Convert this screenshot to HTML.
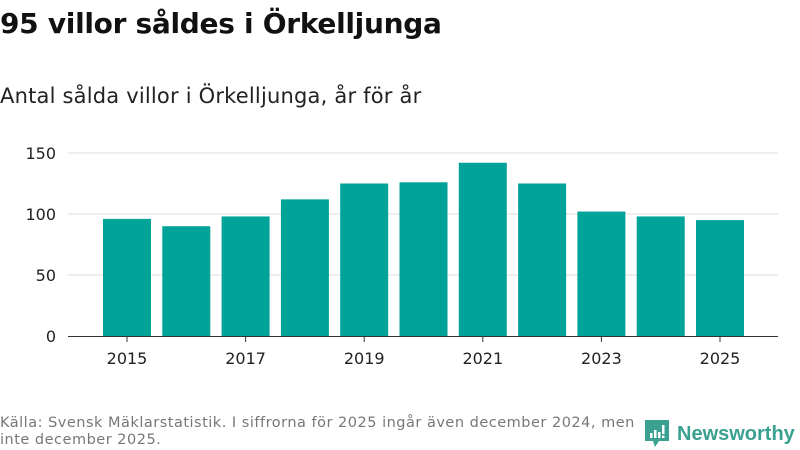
<!DOCTYPE html>
<html><head><meta charset="utf-8">
<style>
body{margin:0;width:800px;height:450px;background:#fff;font-family:"DejaVu Sans","Liberation Sans",sans-serif;overflow:hidden;position:relative}
#title{position:absolute;left:0;top:7px;font-size:28px;font-weight:bold;color:#111;letter-spacing:-0.3px}
#sub{position:absolute;left:0;top:84px;font-size:21px;color:#222;letter-spacing:0.2px}
#src{position:absolute;left:0;top:415px;font-size:14.5px;color:#777;line-height:17px;width:640px;letter-spacing:0.5px}
#logo{position:absolute;left:645px;top:420px;display:flex;align-items:center}
#logo span{font-size:20px;color:#3aa191;font-weight:bold;margin-left:8px;font-family:"Liberation Sans",sans-serif}
</style></head><body>
<div id="title">95 villor såldes i Örkelljunga</div>
<div id="sub">Antal sålda villor i Örkelljunga, år för år</div>
<svg id="chart" width="800" height="450" style="position:absolute;left:0;top:0"></svg>
<div id="src">Källa: Svensk Mäklarstatistik. I siffrorna för 2025 ingår även december 2024, men<br>inte december 2025.</div>
<div id="logo">
<svg width="24" height="28" viewBox="0 0 24 28"><path d="M0 0H24V21H14L10 27L8 21H0Z" fill="#3aa191"/><rect x="5" y="13" width="2.5" height="5" fill="#fff"/><rect x="9" y="10" width="2.5" height="8" fill="#fff"/><rect x="13" y="12" width="2.5" height="6" fill="#fff"/><rect x="17" y="5" width="2.5" height="9" fill="#fff"/><rect x="17" y="15.5" width="2.5" height="2.5" fill="#fff"/></svg>
<span>Newsworthy</span></div>
<script>
const years=[2015,2016,2017,2018,2019,2020,2021,2022,2023,2024,2025];
const values=[96,90,98,112,125,126,142,125,102,98,95];
const yTicks=[0,50,100,150];
const xTickYears=[2015,2017,2019,2021,2023,2025];
const svg=document.getElementById('chart');
const NS='http://www.w3.org/2000/svg';
const y0=336,pxPer=(336-153)/150;
const y=v=>y0-v*pxPer;
const x=yr=>127+(yr-2015)*59.3;
function mk(t,a){const e=document.createElementNS(NS,t);for(const k in a)e.setAttribute(k,a[k]);svg.appendChild(e);return e;}
yTicks.forEach(t=>{
 if(t>0){const g=mk('line',{x1:68,x2:778,y1:y(t),y2:y(t),stroke:'#ddd','stroke-width':1});
 
 }
 const l=mk('text',{x:56,y:y(t)+6,'text-anchor':'end','font-size':16,fill:'#222','font-family':'DejaVu Sans, sans-serif'});
 l.textContent=t;
 
 
});
years.forEach((yr,i)=>{
 const r=mk('rect',{x:x(yr)-24,y:y(values[i]),width:48,height:y0-y(values[i]),fill:'#00a398'});
 
 
});
const ax=mk('line',{x1:68,x2:778,y1:y0+0.5,y2:y0+0.5,stroke:'#333','stroke-width':1});


xTickYears.forEach(yr=>{
 const tk=mk('line',{x1:x(yr),x2:x(yr),y1:y0,y2:y0+6,stroke:'#333'});
 
 
 const l=mk('text',{x:x(yr),y:364,'text-anchor':'middle','font-size':16,fill:'#222','font-family':'DejaVu Sans, sans-serif'});
 l.textContent=yr;
 
 
});
</script>
</body></html>
